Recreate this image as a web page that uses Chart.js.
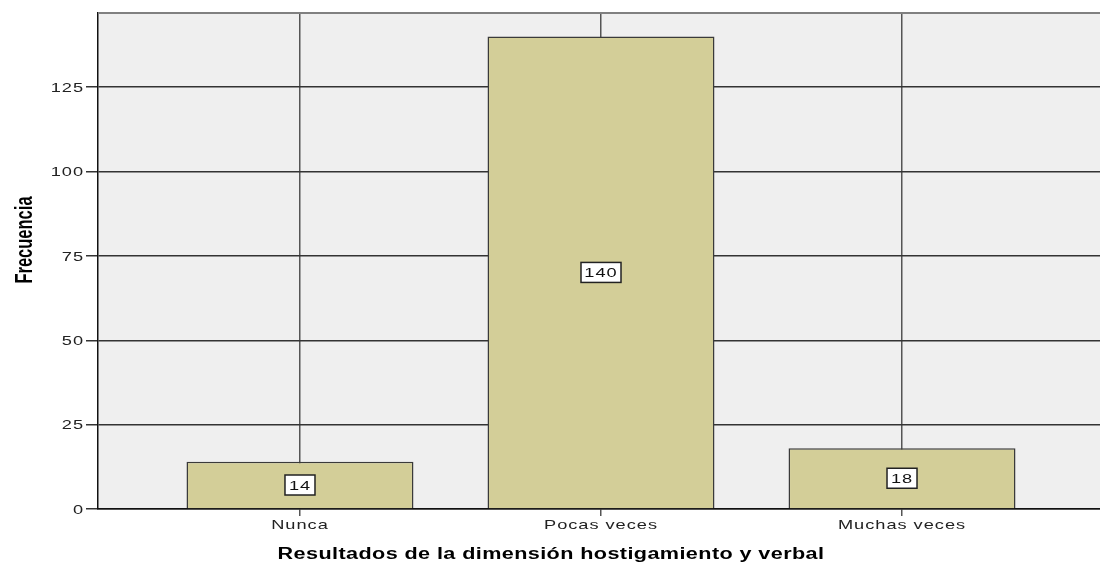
<!DOCTYPE html>
<html>
<head>
<meta charset="utf-8">
<script src="https://cdn.jsdelivr.net/npm/chart.js@4"></script>
<style>
    html, body { margin: 0; padding: 0; background: #fff; overflow: hidden; }
    #wrap { width: 1100px; height: 563px; overflow: hidden; }
</style>
</head>
<body>
<div id="wrap"><canvas id="chart" width="1110" height="563"></canvas></div>
<script>
// datos del gráfico
const categorias = ["Nunca", "Pocas veces", "Muchas veces"];
const frecuencias = [14, 140, 18];
const yTicks = [0, 25, 50, 75, 100, 125];
const tituloX = "Resultados de la dimensión hostigamiento y verbal";
const tituloY = "Frecuencia";

const FUENTE = "'Liberation Sans', Arial, sans-serif";

// texto estirado en horizontal (el gráfico original está estirado a lo ancho)
function texto(ctx, txt, x, y, font, align, spacing, estira) {
    ctx.save();
    ctx.font = font;
    ctx.letterSpacing = spacing + "px";
    ctx.textAlign = align;
    ctx.translate(x, y);
    ctx.scale(estira, 1);
    ctx.fillText(txt, 0, 0);
    ctx.restore();
}

// fondo gris del área, borde superior y textos
const fondoPlugin = {
    id: "fondo",
    beforeDraw(chart) {
        const { ctx, chartArea: a } = chart;
        ctx.save();
        ctx.fillStyle = "#efefef";
        ctx.fillRect(a.left, a.top, a.right - a.left, a.bottom - a.top);
        ctx.restore();
    },
    afterDraw(chart) {
        const { ctx, chartArea: a, scales } = chart;
        ctx.save();
        ctx.strokeStyle = "#808080";
        ctx.lineWidth = 2;
        ctx.beginPath();
        ctx.moveTo(a.left, a.top);
        ctx.lineTo(a.right, a.top);
        ctx.stroke();

        // etiquetas de los ejes
        ctx.fillStyle = "#222";
        ctx.textBaseline = "middle";
        yTicks.forEach(v => {
            texto(ctx, String(v), 84, scales.y.getPixelForValue(v) + 1, "13px " + FUENTE, "right", 0.7, 1.4);
        });
        categorias.forEach((c, i) => {
            texto(ctx, c, scales.x.getPixelForValue(i), 525, "13px " + FUENTE, "center", 0.7, 1.4);
        });

        // títulos
        ctx.fillStyle = "#000";
        ctx.textBaseline = "alphabetic";
        texto(ctx, tituloX, 551, 559, "bold 16px " + FUENTE, "center", 0.3, 1.35);

        ctx.save();
        ctx.font = "bold 16.5px " + FUENTE;
        ctx.textAlign = "center";
        ctx.translate(32, 240);
        ctx.scale(1.4, 1);
        ctx.rotate(-Math.PI / 2);
        ctx.fillText(tituloY, 0, 0);
        ctx.restore();
        ctx.restore();
    }
};

// etiquetas con caja blanca en el centro de cada barra
const etiquetasPlugin = {
    id: "etiquetas",
    afterDatasetsDraw(chart) {
        const { ctx } = chart;
        const meta = chart.getDatasetMeta(0);
        ctx.save();
        meta.data.forEach((bar, i) => {
            const txt = String(frecuencias[i]);
            const y = (bar.y + bar.base) / 2;
            const w = 30 + (txt.length - 2) * 10;
            const h = 20;
            ctx.fillStyle = "#fff";
            ctx.fillRect(bar.x - w / 2, y - h / 2, w, h);
            ctx.strokeStyle = "#222";
            ctx.lineWidth = 1.5;
            ctx.strokeRect(bar.x - w / 2, y - h / 2, w, h);
            ctx.fillStyle = "#111";
            ctx.textBaseline = "middle";
            texto(ctx, txt, bar.x, y + 1, "13px " + FUENTE, "center", 0.7, 1.4);
        });
        ctx.restore();
    }
};

new Chart(document.getElementById("chart"), {
    type: "bar",
    data: {
        datasets: [{
            data: frecuencias.map((v, i) => ({ x: i, y: v })),
            backgroundColor: "#d3ce98",
            borderColor: "#3a3a3a",
            borderWidth: 1.5,
            barPercentage: 0.754,
            categoryPercentage: 1,
        }],
    },
    options: {
        responsive: false,
        animation: false,
        layout: { padding: { top: 13, right: 6, left: 0, bottom: 0 } },
        plugins: { legend: { display: false }, tooltip: { enabled: false } },
        scales: {
            x: {
                type: "linear",
                offset: false,
                min: -0.671,
                max: 2.671,
                afterBuildTicks: (s) => { s.ticks = categorias.map((c, i) => ({ value: i })); },
                afterFit: (s) => { s.height = 54; },
                ticks: { display: false },
                grid: { offset: false, color: "#555", lineWidth: 1.5, tickLength: 7, drawTicks: true },
                border: { color: "#111", width: 1.5 },
            },
            y: {
                min: 0,
                max: 147,
                afterBuildTicks: (s) => { s.ticks = yTicks.map(v => ({ value: v })); },
                afterFit: (s) => { s.width = 98; },
                ticks: { display: false },
                grid: { color: "#333", lineWidth: 1.5, tickLength: 12 },
                border: { color: "#111", width: 1.5 },
            },
        },
    },
    plugins: [fondoPlugin, etiquetasPlugin],
});
</script>
</body>
</html>
